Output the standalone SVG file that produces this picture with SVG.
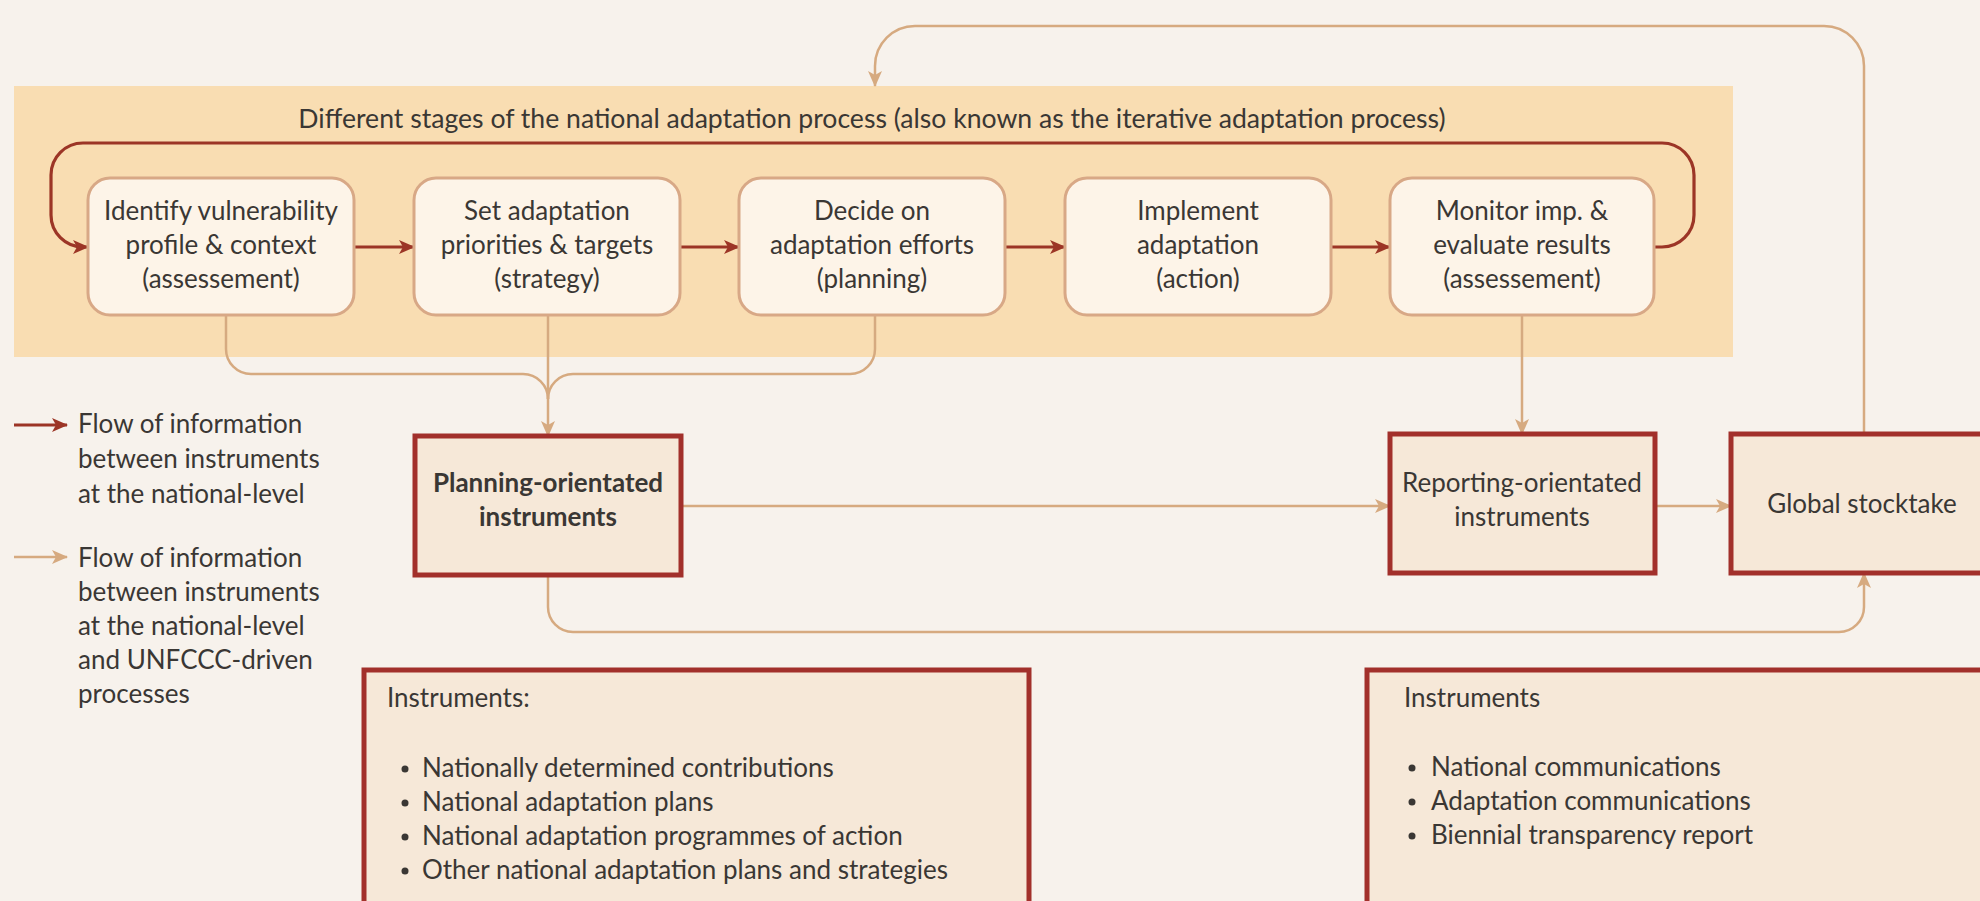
<svg xmlns="http://www.w3.org/2000/svg" width="1980" height="901" viewBox="0 0 1980 901">
<defs>
<style>
.t{font-family:Lato,"Open Sans","Liberation Sans",sans-serif;font-size:26px;fill:#3a3734}
.c{text-anchor:middle}
.b{font-weight:bold}
.stage{fill:#fdf4e8;stroke:#d8a886;stroke-width:3}
.inst{fill:#f6e8d8;stroke:#a2302b;stroke-width:5}
.red{fill:none;stroke:#9c3526;stroke-width:3.2}
.tan{fill:none;stroke:#d6aa80;stroke-width:2.5}
</style>
<marker id="ar" markerUnits="userSpaceOnUse" markerWidth="16" markerHeight="14" refX="15" refY="7" orient="auto">
<path d="M0,0 L16,7 L0,14 L4,7 Z" fill="#9c3526"/>
</marker>
<marker id="at" markerUnits="userSpaceOnUse" markerWidth="16" markerHeight="14" refX="15" refY="7" orient="auto">
<path d="M0,0 L16,7 L0,14 L4,7 Z" fill="#d6aa80"/>
</marker>
</defs>
<rect width="1980" height="901" fill="#f7f2ec"/>
<rect id="band" x="14" y="86" width="1719" height="271" fill="#f9ddb2"/>
<text class="t c" x="872" y="128" style="font-size:26.6px">Different stages of the national adaptation process (also known as the iterative adaptation process)</text>

<g id="connectors">
<path class="red" d="M1654,247 H1662 A32,32 0 0 0 1694,215 V175 A32,32 0 0 0 1662,143 H83 A32,32 0 0 0 51,175 V215 A32,32 0 0 0 83,247 H88" marker-end="url(#ar)"/>
<path class="red" d="M354,247 H414" marker-end="url(#ar)"/>
<path class="red" d="M680,247 H739" marker-end="url(#ar)"/>
<path class="red" d="M1005,247 H1065" marker-end="url(#ar)"/>
<path class="red" d="M1331,247 H1390" marker-end="url(#ar)"/>
<path class="tan" d="M226,315 V349 A25,25 0 0 0 251,374 H523 A25,25 0 0 1 548,399"/>
<path class="tan" d="M875,315 V349 A25,25 0 0 1 850,374 H573 A25,25 0 0 0 548,399"/>
<path class="tan" d="M548,315 V436" marker-end="url(#at)"/>
<path class="tan" d="M1522,315 V434" marker-end="url(#at)"/>
<path class="tan" d="M681,506 H1390" marker-end="url(#at)"/>
<path class="tan" d="M1655,506 H1731" marker-end="url(#at)"/>
<path class="tan" d="M548,575 V607 A25,25 0 0 0 573,632 H1839 A25,25 0 0 0 1864,607 V573" marker-end="url(#at)"/>
<path class="tan" d="M1864,434 V66 A40,40 0 0 0 1824,26 H915 A40,40 0 0 0 875,66 V86" marker-end="url(#at)"/>
<path class="red" d="M14,425 H67" marker-end="url(#ar)"/>
<path class="tan" d="M14,557 H67" marker-end="url(#at)"/>
</g>

<g id="stage1"><rect class="stage" x="88" y="178" width="266" height="137" rx="22"/>
<text class="t c" x="221" y="220">Identify vulnerability</text><text class="t c" x="221" y="254">profile &amp; context</text><text class="t c" x="221" y="288">(assessement)</text></g>
<g id="stage2"><rect class="stage" x="414" y="178" width="266" height="137" rx="22"/>
<text class="t c" x="547" y="220">Set adaptation</text><text class="t c" x="547" y="254">priorities &amp; targets</text><text class="t c" x="547" y="288">(strategy)</text></g>
<g id="stage3"><rect class="stage" x="739" y="178" width="266" height="137" rx="22"/>
<text class="t c" x="872" y="220">Decide on</text><text class="t c" x="872" y="254">adaptation efforts</text><text class="t c" x="872" y="288">(planning)</text></g>
<g id="stage4"><rect class="stage" x="1065" y="178" width="266" height="137" rx="22"/>
<text class="t c" x="1198" y="220">Implement</text><text class="t c" x="1198" y="254">adaptation</text><text class="t c" x="1198" y="288">(action)</text></g>
<g id="stage5"><rect class="stage" x="1390" y="178" width="264" height="137" rx="22"/>
<text class="t c" x="1522" y="220">Monitor imp. &amp;</text><text class="t c" x="1522" y="254">evaluate results</text><text class="t c" x="1522" y="288">(assessement)</text></g>

<g id="planning"><rect class="inst" x="415" y="436" width="266" height="139"/>
<text class="t c b" x="548" y="492">Planning-orientated</text><text class="t c b" x="548" y="526">instruments</text></g>
<g id="reporting"><rect class="inst" x="1390" y="434" width="265" height="139"/>
<text class="t c" x="1522" y="492">Reporting-orientated</text><text class="t c" x="1522" y="526">instruments</text></g>
<g id="stocktake"><rect class="inst" x="1731" y="434" width="270" height="139"/>
<text class="t c" x="1862" y="513">Global stocktake</text></g>

<g id="legend">
<text class="t" x="78" y="433">Flow of information</text>
<text class="t" x="78" y="468">between instruments</text>
<text class="t" x="78" y="503">at the national-level</text>
<text class="t" x="78" y="567">Flow of information</text>
<text class="t" x="78" y="601">between instruments</text>
<text class="t" x="78" y="635">at the national-level</text>
<text class="t" x="78" y="669">and UNFCCC-driven</text>
<text class="t" x="78" y="703">processes</text>
</g>

<g id="planningList"><rect class="inst" x="364" y="670" width="665" height="260"/>
<text class="t" x="387" y="707">Instruments:</text>
<circle cx="405" cy="769" r="3.5" fill="#3a3734"/><text class="t" x="422" y="777">Nationally determined contributions</text>
<circle cx="405" cy="803" r="3.5" fill="#3a3734"/><text class="t" x="422" y="811">National adaptation plans</text>
<circle cx="405" cy="837" r="3.5" fill="#3a3734"/><text class="t" x="422" y="845">National adaptation programmes of action</text>
<circle cx="405" cy="871" r="3.5" fill="#3a3734"/><text class="t" x="422" y="879">Other national adaptation plans and strategies</text>
</g>
<g id="reportingList"><rect class="inst" x="1367" y="670" width="700" height="260"/>
<text class="t" x="1404" y="707">Instruments</text>
<circle cx="1412" cy="768" r="3.5" fill="#3a3734"/><text class="t" x="1431" y="776">National communications</text>
<circle cx="1412" cy="802" r="3.5" fill="#3a3734"/><text class="t" x="1431" y="810">Adaptation communications</text>
<circle cx="1412" cy="836" r="3.5" fill="#3a3734"/><text class="t" x="1431" y="844">Biennial transparency report</text>
</g>
</svg>
